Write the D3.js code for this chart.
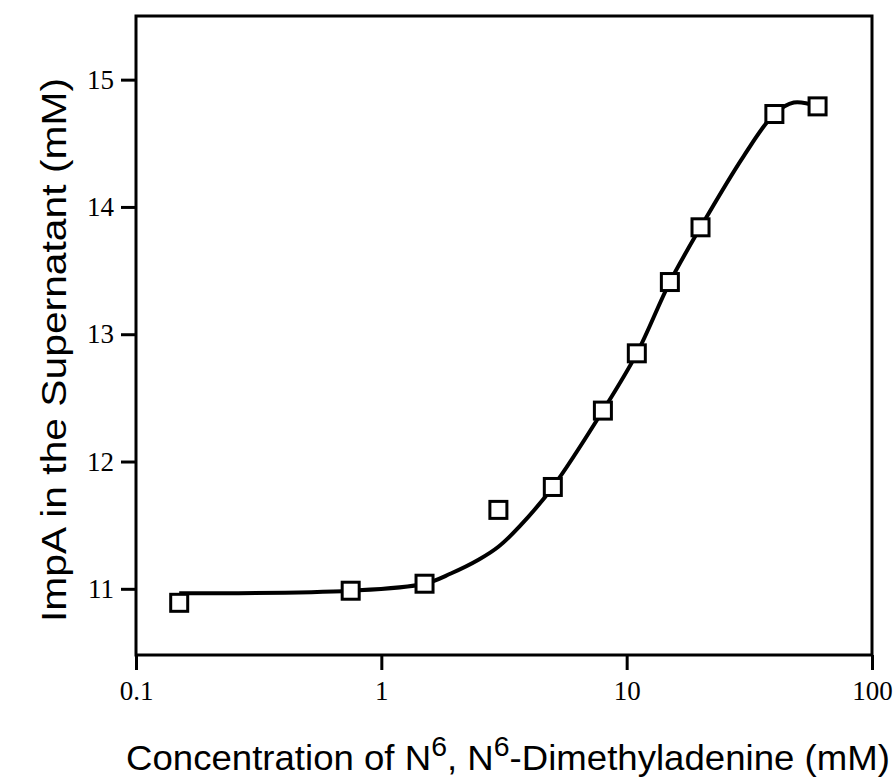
<!DOCTYPE html>
<html>
<head>
<meta charset="utf-8">
<script src="https://cdn.jsdelivr.net/npm/d3@7"></script>
<style>
  body { margin: 0; background: #fff; }
  svg { display: block; }
</style>
</head>
<body>
<div id="chart"></div>
<script>
// measured points
const concentration = [0.15, 0.75, 1.5, 3, 5, 8, 11, 15, 20, 40, 60];
const impA = [10.89, 10.985, 11.04, 11.62, 11.80, 12.40, 12.85, 13.41, 13.84, 14.73, 14.79];

// fitted curve
const fitX = [0.15, 0.75, 1.5, 1.92, 2.5, 3, 3.66, 5, 8, 11, 15, 20, 30, 40, 48, 60];
const fitY = [10.965, 10.985, 11.04, 11.12, 11.23, 11.33, 11.49, 11.80, 12.40, 12.85, 13.41, 13.84, 14.40, 14.73, 14.82, 14.79];

const xTicks = [0.1, 1, 10, 100];
const xTickLabels = ["0.1", "1", "10", "100"];
const yTicks = [11, 12, 13, 14, 15];

let margin = { top: 16, left: 136, right: 24, bottom: 128 },
    width = 896 - margin.left - margin.right,
    height = 783 - margin.top - margin.bottom;

let svg = d3.select("#chart").append("svg")
    .attr("width", 896)
    .attr("height", 783);

let g = svg.append("g")
    .attr("transform", "translate(" + margin.left + "," + margin.top + ")");

let x = d3.scaleLog().domain([0.1, 100]).range([0, width]);
let y = d3.scaleLinear().domain([10.48, 15.5]).range([height, 0]);

// y axis
let yAxis = g.append("g")
    .call(d3.axisLeft(y).tickValues(yTicks).tickSize(15).tickPadding(7).tickFormat(d3.format("d")));
yAxis.select(".domain").remove();
yAxis.selectAll("line").attr("stroke", "#000").attr("stroke-width", 3);
yAxis.selectAll("text")
    .attr("font-family", "'Liberation Serif', 'Times New Roman', serif")
    .attr("font-size", 27)
    .attr("fill", "#000");

// x axis
let xAxis = g.append("g")
    .attr("transform", "translate(0," + height + ")")
    .call(d3.axisBottom(x).tickValues(xTicks).tickSize(15)
        .tickFormat((d, i) => xTickLabels[i]));
xAxis.select(".domain").remove();
xAxis.selectAll("line").attr("stroke", "#000").attr("stroke-width", 3);
xAxis.selectAll("text")
    .attr("y", 45)
    .attr("dy", 0)
    .attr("font-family", "'Liberation Serif', 'Times New Roman', serif")
    .attr("font-size", 27)
    .attr("fill", "#000");

// frame
g.append("rect")
    .attr("width", width)
    .attr("height", height)
    .attr("fill", "none")
    .attr("stroke", "#000")
    .attr("stroke-width", 3);

// fitted curve
let fit = fitX.map((d, i) => [d, fitY[i]]);
g.append("path")
    .datum(fit)
    .attr("fill", "none")
    .attr("stroke", "#000")
    .attr("stroke-width", 4)
    .attr("d", d3.line()
        .x(d => x(d[0]))
        .y(d => y(d[1]))
        .curve(d3.curveCatmullRom.alpha(0.5)));

// squares
let sq = 17;
g.selectAll(".pt")
    .data(concentration.map((d, i) => [d, impA[i]]))
    .enter().append("rect")
    .attr("class", "pt")
    .attr("x", d => x(d[0]) - sq / 2)
    .attr("y", d => y(d[1]) - sq / 2)
    .attr("width", sq)
    .attr("height", sq)
    .attr("fill", "#fff")
    .attr("stroke", "#000")
    .attr("stroke-width", 3);

// x title
let xt = svg.append("text")
    .attr("font-family", "'Liberation Sans', Arial, sans-serif")
    .attr("font-size", 36)
    .attr("fill", "#000");
xt.append("tspan").text("Concentration of N");
xt.append("tspan").attr("font-size", 28).attr("dy", -14).text("6");
xt.append("tspan").attr("dy", 14).text(", N");
xt.append("tspan").attr("font-size", 28).attr("dy", -14).text("6");
xt.append("tspan").attr("dy", 14).text("-Dimethyladenine (mM)");
let xw = xt.node().getBBox().width;
xt.attr("transform", "translate(126,770) scale(" + (764 / xw) + ",1)");

// y title
let yt = svg.append("text")
    .attr("font-family", "'Liberation Sans', Arial, sans-serif")
    .attr("font-size", 35)
    .attr("fill", "#000")
    .text("ImpA  in  the  Supernatant  (mM)");
let yw = yt.node().getBBox().width;
yt.attr("transform", "translate(66,622) rotate(-90) scale(" + (544 / yw) + ",1)");
</script>
</body>
</html>
